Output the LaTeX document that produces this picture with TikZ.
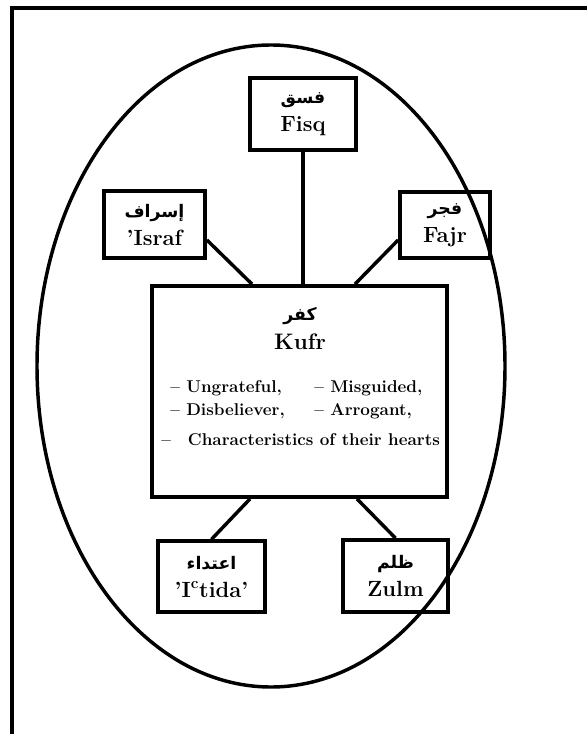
\documentclass[tikz,border=0pt]{standalone}
\usepackage{fontspec}
\usepackage{tikz}
\usetikzlibrary{positioning, calc}
\newfontfamily\arabicfont[Script=Arabic]{DejaVu Sans}
\TeXXeTstate=1
\newcommand{\ar}[1]{{\arabicfont\fontsize{13}{15}\selectfont\bfseries\beginR #1\endR}}

\begin{document}
\begin{tikzpicture}[x=0.75pt, y=-0.75pt,
    thickline/.style={line width=2.6pt},
    termbox/.style={draw, line width=2.8pt, align=center, inner sep=0pt,
        font=\fontsize{16.5}{21}\selectfont\bfseries},
    itemtext/.style={anchor=west, inner sep=0pt, font=\fontsize{12.8}{15}\selectfont\bfseries}]
    \useasboundingbox (0,0) rectangle (586,734);

    % Frame (only top and left edges show)
    \draw [thickline] (12,734) -- (12,8) -- (590,8);

    % Ellipse round everything
    \draw [thickline] (271,366) ellipse [x radius=175.5pt, y radius=240.75pt];

    % Centre box
    \node [draw, line width=3pt, minimum width=221pt, minimum height=158pt] (kufr) at (299.5,391.5) {};
    \node [inner sep=0pt] (kufrar) at (300,316) {\ar{كفر}};
    \node [inner sep=0pt, font=\fontsize{16.8}{21}\selectfont\bfseries] (kufrlat) at (300,342) {Kufr};
    \node [itemtext] (ungrateful) at (170,388) {-- Ungrateful,};
    \node [itemtext] (misguided) at (314,388) {-- Misguided,};
    \node [itemtext] (disbeliever) at (170,411) {-- Disbeliever,};
    \node [itemtext] (arrogant) at (314,411) {-- Arrogant,};
    \node [itemtext] (hearts) at (161,440) {--\quad Characteristics of their hearts};

    % Outer terms
    \node [termbox, minimum width=79.5pt, minimum height=54pt] (fisq) at (303,114) {\ar{فسق}\\ Fisq};
    \node [termbox, minimum width=75.75pt, minimum height=50pt] (israf) at (154.5,224.5) {\ar{إسراف}\\ 'Israf};
    \node [termbox, minimum width=67.5pt, minimum height=49.5pt] (fajr) at (445,225) {\ar{فجر}\\ Fajr};
    \node [termbox, minimum width=80pt, minimum height=53pt] (itida) at (211.5,576.5) {\ar{اعتداء}\\ 'I\textsuperscript{c}tida'};
    \node [termbox, minimum width=79pt, minimum height=54pt] (zulm) at (395.5,576) {\ar{ظلم}\\ Zulm};

    % Connectors
    \draw [thickline] (fisq.south) -- (fisq.south |- kufr.north);
    \draw [thickline] ([yshift=-11.6pt]israf.east) -- ([xshift=-35.6pt]kufr.north);
    \draw [thickline] ([yshift=-11.25pt]fajr.west) -- ([xshift=41.6pt]kufr.north);
    \draw [thickline] ([xshift=-37.1pt]kufr.south) -- (itida.north);
    \draw [thickline] ([xshift=43.1pt]kufr.south) -- (zulm.north);
\end{tikzpicture}
\end{document}
